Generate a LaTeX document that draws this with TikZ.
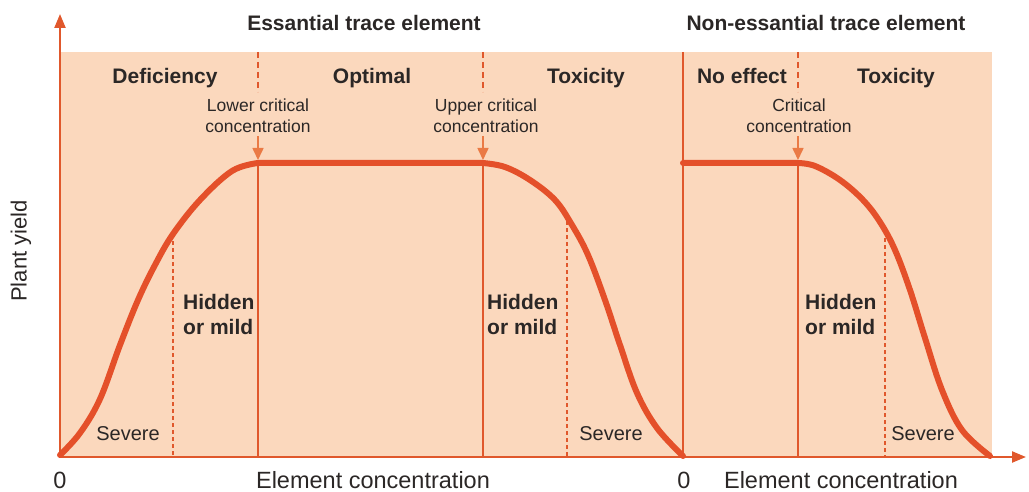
\documentclass[tikz,border=0pt]{standalone}
\usepackage{fontspec}
\setmainfont{Liberation Sans}
\usetikzlibrary{arrows.meta}
\definecolor{peach}{HTML}{FBD8BD}
\definecolor{yieldred}{HTML}{E4502A}
\definecolor{axisred}{HTML}{E0582C}
\definecolor{arrowor}{HTML}{EA7A45}
\definecolor{ink}{HTML}{2B2726}
\tikzset{
  headtxt/.style={font=\bfseries\fontsize{21}{25}\selectfont, text=ink, anchor=base, inner sep=0pt},
  crittxt/.style={font=\fontsize{17.5}{21}\selectfont, text=ink, align=center, anchor=north, inner sep=0pt},
  mildtxt/.style={font=\bfseries\fontsize{21}{25}\selectfont, text=ink, align=left, anchor=north west, inner sep=0pt},
  plaintxt/.style={font=\fontsize{20}{24}\selectfont, text=ink, anchor=base, inner sep=0pt},
  axistxt/.style={font=\fontsize{23.5}{26}\selectfont, text=ink, anchor=base, inner sep=0pt},
  yieldline/.style={yieldred, line width=6pt, line cap=round, line join=round},
  zoneline/.style={axisred, line width=1.6pt},
  topdash/.style={axisred, line width=1.6pt, dash pattern=on 6pt off 4pt},
  lowdash/.style={axisred, line width=1.3pt, dash pattern=on 4pt off 3pt},
  critarrow/.style={arrowor, line width=1.6pt, -{Triangle[length=12pt,width=11pt]}},
}
\begin{document}
\begin{tikzpicture}[x=1pt,y=-1pt]
	\useasboundingbox (0,0) rectangle (1029,492);
	% background of the plot
	\fill[peach] (60,52) rectangle (992,457);
	% axes
	\draw[axisred, line width=2.2pt, -{Triangle[length=14pt,width=11pt]}] (60,457) -- (60,14);
	\draw[axisred, line width=2.2pt, -{Triangle[length=14pt,width=11pt]}] (59,457) -- (1026,457);
	% zone borders
	\draw[zoneline] (683,52) -- (683,457);
	\foreach \x in {258,483,798}
	\draw[zoneline] (\x,163) -- (\x,457);
	\foreach \x in {258,483,798}
	\draw[topdash] (\x,52) -- (\x,92);
	\draw[lowdash] (173,234) -- (173,457);
	\draw[lowdash] (567,214) -- (567,457);
	\draw[lowdash] (885,238) -- (885,457);
	% yield curves
	\draw[yieldline] plot[smooth, tension=0.6] coordinates {(60,455) (80,433) (100,399) (120,345) (138,300) (155,265) (173,234) (200,200) (232,171) (258,163)}
		-- (483,163)
		plot[smooth, tension=0.6] coordinates {(483,163) (505,167) (530,180) (555,200) (572,225) (588,255) (605,300) (620,345) (637,393) (657,428) (683,456)};
	\draw[yieldline] (683,163) -- (798,163)
		plot[smooth, tension=0.6] coordinates {(798,163) (815,166) (840,180) (863,200) (880,222) (895,250) (910,290) (925,338) (942,390) (962,430) (990,456)};
	% titles
	\node[headtxt] (ess) at (364,31) {Essantial trace element};
	\node[headtxt] (noness) at (826,31) {Non-essantial trace element};
	\node[headtxt] (defic) at (165,84) {Deficiency};
	\node[headtxt] (optim) at (372,84) {Optimal};
	\node[headtxt] (toxa) at (586,84) {Toxicity};
	\node[headtxt] (noeff) at (742,84) {No effect};
	\node[headtxt] (toxb) at (896,84) {Toxicity};
	% critical concentrations
	\node[crittxt] (lowcrit) at (258,99) {Lower critical\\concentration};
	\node[crittxt] (upcrit) at (486,99) {Upper critical\\concentration};
	\node[crittxt] (crit) at (799,99) {Critical\\concentration};
	\coordinate (lowpt) at (258,160);
	\coordinate (uppt) at (483,160);
	\coordinate (critpt) at (798,160);
	\draw[critarrow] ([yshift=-3pt]lowcrit.south -| lowpt) -- (lowpt);
	\draw[critarrow] ([yshift=-3pt]upcrit.south -| uppt) -- (uppt);
	\draw[critarrow] ([yshift=-3pt]crit.south -| critpt) -- (critpt);
	% hidden and severe
	\node[mildtxt] (milda) at (183,294) {Hidden\\or mild};
	\node[mildtxt] (mildb) at (487,294) {Hidden\\or mild};
	\node[mildtxt] (mildc) at (805,294) {Hidden\\or mild};
	\node[plaintxt] (sevb) at (128,440) {Severe};
	\node[plaintxt] (seva) at (611,440) {Severe};
	\node[plaintxt] (sevc) at (923,440) {Severe};
	% axis labels
	\node[plaintxt, font=\fontsize{22}{24}\selectfont, rotate=90, anchor=center] (yield) at (21,251) {Plant yield};
	\node[axistxt] (zeroa) at (60,488) {0};
	\node[axistxt] (zerob) at (684,488) {0};
	\node[axistxt] (conca) at (373,488) {Element concentration};
	\node[axistxt] (concb) at (841,488) {Element concentration};
\end{tikzpicture}
\end{document}
